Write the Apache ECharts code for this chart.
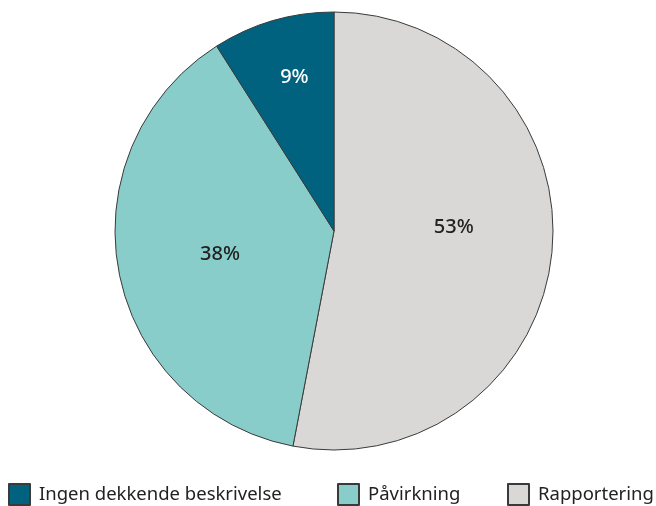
<!DOCTYPE html>
<html><head><meta charset="utf-8">
<script src="https://cdn.jsdelivr.net/npm/echarts@6/dist/echarts.min.js"></script>
<style>html,body{margin:0;padding:0;background:#fff}#c{width:656px;height:506px}</style>
</head><body><div id="c"></div>
<script>
const categories = ['Rapportering', 'Påvirkning', 'Ingen dekkende beskrivelse'];
const values = [53, 38, 9];
const colors = ['#d9d8d6', '#88cdc9', '#00627f'];
const labelColors = ['#222', '#222', '#fff'];
const legendOrder = ['Ingen dekkende beskrivelse', 'Påvirkning', 'Rapportering'];
const legendLeft = [8, 337, 507];
// label placement: radial fraction of radius, plus small nudges
const labelRadial = [0.54, 0.53, 0.73];
const labelNudge = [[2, -15], [0, 2], [5, 0]];

const FONT = 'Noto Sans';
const chart = echarts.init(document.getElementById('c'));
const cx = 334, cy = 231, R = 219;
chart.setOption({
  animation: false,
  textStyle: { fontFamily: FONT },
  legend: legendOrder.map((name, i) => ({
    data: [name], left: legendLeft[i], top: 483, itemWidth: 21, itemHeight: 21, itemGap: 0,
    icon: 'rect', selectedMode: false,
    textStyle: { fontFamily: FONT, fontSize: 18.5, color: '#222', padding: [0, 0, 0, 4] },
    padding: 0
  })),
  series: [{
    type: 'pie',
    center: [cx, cy],
    radius: R,
    startAngle: 90,
    clockwise: true,
    data: categories.map((n, i) => ({
      name: n, value: values[i],
      itemStyle: { color: colors[i] },
      label: { color: labelColors[i] }
    })),
    itemStyle: { borderColor: '#3a3a3a', borderWidth: 1 },
    label: {
      show: true, position: 'inside', formatter: '{c}%',
      fontFamily: FONT, fontSize: 20, fontWeight: 500
    },
    labelLine: { show: false },
    emphasis: { disabled: true },
    labelLayout: function (p) {
      const i = p.dataIndex;
      const lx = p.labelRect.x + p.labelRect.width / 2;
      const ly = p.labelRect.y + p.labelRect.height / 2;
      const dx = lx - cx, dy = ly - cy;
      const d = Math.sqrt(dx * dx + dy * dy);
      const k = labelRadial[i] * R / d;
      return { x: cx + dx * k + labelNudge[i][0], y: cy + dy * k + labelNudge[i][1], align: 'center', verticalAlign: 'middle' };
    }
  }]
});
</script></body></html>
